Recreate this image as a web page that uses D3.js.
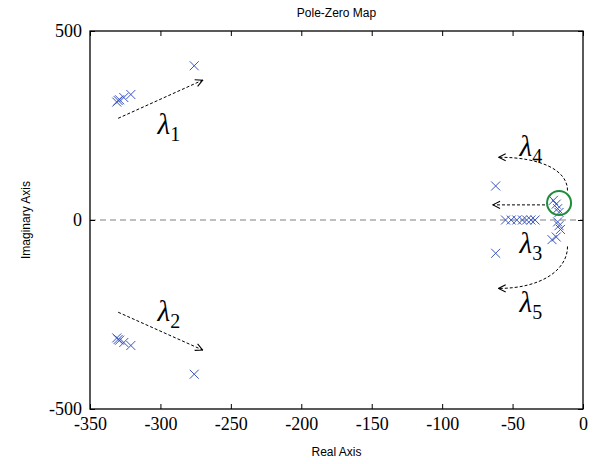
<!DOCTYPE html>
<html><head><meta charset="utf-8">
<script src="https://cdn.jsdelivr.net/npm/d3@7"></script>
<style>body{margin:0;background:#fff}</style>
</head><body><svg id="c" width="601" height="464"></svg>
<script>
// ---- data ----
const title = "Pole-Zero Map";
const xLabel = "Real Axis";
const yLabel = "Imaginary Axis";
const xTicks = [-350, -300, -250, -200, -150, -100, -50, 0];
const yTicks = [-500, 0, 500];
// poles (real, imag)
const polesReal = [-331, -330, -329, -326, -321, -276,
                   -331, -330, -329, -326, -321, -276,
                   -62, -62,
                   -55, -51, -47, -43, -40, -37, -34,
                   -21, -19, -18, -17, -18, -17, -16, -19, -22];
const polesImag = [312, 316, 318, 324, 332, 408,
                   -312, -316, -318, -324, -332, -408,
                   90, -88,
                   0, 0, 0, 0, 0, 0, 0,
                   52, 42, 30, 20, -5, -15, -25, -45, -52];
const zerosReal = [-17];
const zerosImag = [45];
// annotation arrows in data coordinates
const arrowLines = [
  {name: "l1", pts: [[-330, 269], [-270, 370]]},
  {name: "l2", pts: [[-330, -244], [-270, -344]]},
  {name: "l3", pts: [[-27, 40], [-64, 40]]}
];
const arrowCurves = [
  {name: "l4", pts: [[-11, 78], [-11, 132], [-30, 166], [-60, 166]]},
  {name: "l5", pts: [[-11, -70], [-11, -133], [-30, -181], [-60, -181]]}
];
const lambdaLabels = [
  {sub: "1", x: -302, y: 228},
  {sub: "2", x: -302, y: -268},
  {sub: "3", x: -45, y: -86},
  {sub: "4", x: -45, y: 170},
  {sub: "5", x: -45, y: -244}
];

// ---- chart ----
const svg = d3.select("#c");
const L = 90, R = 583, T = 31, B = 409;
const x = d3.scaleLinear().domain([-350, 0]).range([L, R]);
const y = d3.scaleLinear().domain([-500, 500]).range([B, T]);
const fmt = d => String(d);

svg.append("defs").append("marker")
  .attr("id", "ah").attr("viewBox", "0 0 10 10").attr("refX", 9).attr("refY", 5)
  .attr("markerWidth", 9).attr("markerHeight", 9).attr("markerUnits", "userSpaceOnUse")
  .attr("orient", "auto")
  .append("path").attr("d", "M1,1 L9,5 L1,9").attr("fill", "none")
  .attr("stroke", "#000").attr("stroke-width", 1.2);

// zero line
svg.append("line").attr("x1", L).attr("x2", R).attr("y1", y(0)).attr("y2", y(0))
  .attr("stroke", "#808080").attr("stroke-dasharray", "6,4").attr("stroke-width", 1);

// axes
const fontT = "'Liberation Serif', 'Times New Roman', serif";
const xb = svg.append("g").attr("transform", `translate(0,${B})`)
  .call(d3.axisBottom(x).tickValues(xTicks).tickFormat(fmt).tickSizeInner(-5).tickSizeOuter(0).tickPadding(8));
const xt = svg.append("g").attr("transform", `translate(0,${T})`)
  .call(d3.axisTop(x).tickValues(xTicks).tickFormat("").tickSizeInner(-5).tickSizeOuter(0));
const yl = svg.append("g").attr("transform", `translate(${L},0)`)
  .call(d3.axisLeft(y).tickValues(yTicks).tickFormat(fmt).tickSizeInner(-5).tickSizeOuter(0).tickPadding(8));
const yr = svg.append("g").attr("transform", `translate(${R},0)`)
  .call(d3.axisRight(y).tickValues(yTicks).tickFormat("").tickSizeInner(-5).tickSizeOuter(0));
[xb, xt, yl, yr].forEach(g => {
  g.select(".domain").remove();
  g.selectAll("line").attr("stroke", "#000");
  g.selectAll("text").attr("font-family", fontT).attr("font-size", 18).attr("fill", "#000");
});
xb.selectAll("text").attr("dy", "0.71em");
svg.append("rect").attr("x", L).attr("y", T).attr("width", R - L).attr("height", B - T)
  .attr("fill", "none").attr("stroke", "#000").attr("stroke-width", 1.3);

// poles
const s = 4.5;
const pg = svg.append("g").attr("stroke", "#3a55c0").attr("stroke-width", 1);
polesReal.forEach((r, i) => {
  const cx = x(r), cy = y(polesImag[i]);
  pg.append("path").attr("d", `M${cx - s},${cy - s}L${cx + s},${cy + s}M${cx - s},${cy + s}L${cx + s},${cy - s}`);
});
// zeros
zerosReal.forEach((r, i) => {
  svg.append("circle").attr("cx", x(r)).attr("cy", y(zerosImag[i])).attr("r", 12)
    .attr("fill", "none").attr("stroke", "#1e8c3c").attr("stroke-width", 2);
});

// arrows
arrowLines.forEach(a => {
  svg.append("path").attr("d", d3.line().x(d => x(d[0])).y(d => y(d[1]))(a.pts))
    .attr("fill", "none").attr("stroke", "#000").attr("stroke-width", 1)
    .attr("stroke-dasharray", "3,2").attr("marker-end", "url(#ah)");
});
arrowCurves.forEach(a => {
  const p = a.pts.map(d => [x(d[0]), y(d[1])]);
  svg.append("path").attr("d", `M${p[0]}C${p[1]} ${p[2]} ${p[3]}`)
    .attr("fill", "none").attr("stroke", "#000").attr("stroke-width", 1)
    .attr("stroke-dasharray", "3,2").attr("marker-end", "url(#ah)");
});

// lambda labels
lambdaLabels.forEach(l => {
  const t = svg.append("text").attr("x", x(l.x)).attr("y", y(l.y))
    .attr("font-family", fontT).attr("font-style", "italic").attr("font-size", 29).attr("fill", "#000");
  t.append("tspan").text("λ");
  t.append("tspan").attr("dy", 7).attr("font-size", 20).attr("font-style", "normal").text(l.sub);
});

// titles
const fontA = "'Liberation Sans', Arial, sans-serif";
svg.append("text").attr("x", (L + R) / 2).attr("y", 17).attr("text-anchor", "middle")
  .attr("font-family", fontA).attr("font-size", 12).text(title);
svg.append("text").attr("x", (L + R) / 2).attr("y", 456).attr("text-anchor", "middle")
  .attr("font-family", fontA).attr("font-size", 12).text(xLabel);
svg.append("text").attr("transform", `translate(30,${(T + B) / 2}) rotate(-90)`).attr("text-anchor", "middle")
  .attr("font-family", fontA).attr("font-size", 12).text(yLabel);
</script></body></html>
